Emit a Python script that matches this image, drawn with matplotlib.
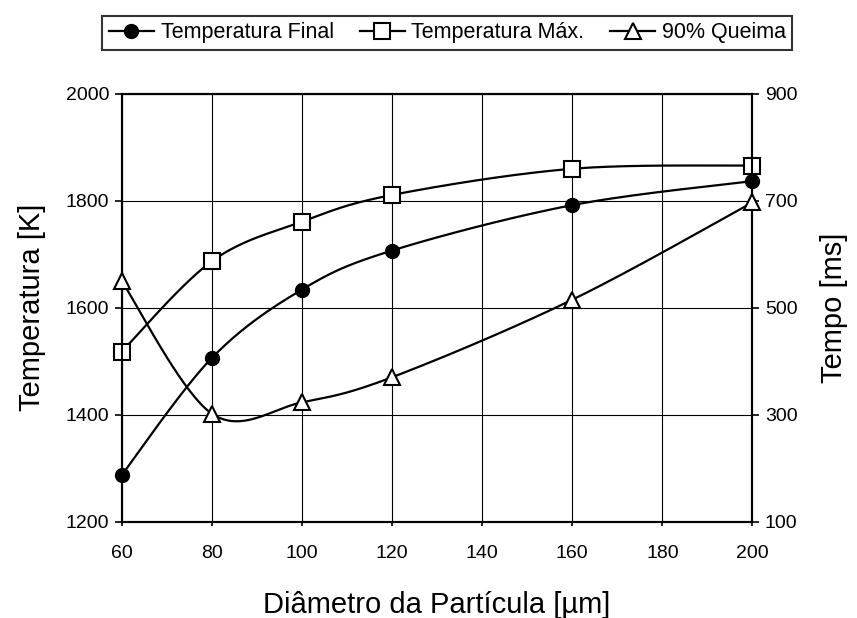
import matplotlib.pyplot as plt
import numpy as np
from matplotlib.lines import Line2D

plt.rcParams['font.family'] = ['Liberation Sans', 'DejaVu Sans']

diametro = [60, 80, 100, 120, 160, 200]
temp_final = [1287, 1506, 1634, 1707, 1792, 1837]
temp_max = [1518, 1687, 1761, 1811, 1860, 1866]
queima_90 = [550, 302, 323, 370, 515, 697]


def suaviza(xs, ys, n=40):
    # Catmull-Rom through the points, like a spreadsheet "smoothed line"
    p = np.column_stack([xs, ys]).astype(float)
    p = np.vstack([p[0], p, p[-1]])
    out = []
    t = np.linspace(0, 1, n)[:, None]
    for i in range(1, len(p) - 2):
        p0, p1, p2, p3 = p[i - 1], p[i], p[i + 1], p[i + 2]
        c1 = p1 + (p2 - p0) / 6
        c2 = p2 - (p3 - p1) / 6
        seg = ((1 - t) ** 3) * p1 + 3 * ((1 - t) ** 2) * t * c1 + 3 * (1 - t) * t ** 2 * c2 + t ** 3 * p2
        out.append(seg if i == 1 else seg[1:])
    out = np.vstack(out)
    return out[:, 0], out[:, 1]


fig = plt.figure(figsize=(8.57, 6.18), dpi=100)
ax = fig.add_axes([0.142, 0.156, 0.736, 0.692])
ax2 = ax.twinx()

ax.set_xlim(60, 200)
ax.set_ylim(1200, 2000)
ax2.set_ylim(100, 900)
ax.set_xticks(np.arange(60, 201, 20))
ax.set_yticks(np.arange(1200, 2001, 200))
ax2.set_yticks(np.arange(100, 901, 200))
ax.grid(True, color='black', linewidth=0.8)
ax.set_axisbelow(True)

lw = 1.6
x, y = suaviza(diametro, temp_final)
ax.plot(x, y, color='black', lw=lw, zorder=3)
ax.plot(diametro, temp_final, 'o', ms=10, color='black', zorder=4, clip_on=False)
x, y = suaviza(diametro, temp_max)
ax.plot(x, y, color='black', lw=lw, zorder=3)
ax.plot(diametro, temp_max, 's', ms=11, mfc='white', mec='black', mew=1.5, zorder=4, clip_on=False)
x, y = suaviza(diametro, queima_90)
ax2.plot(x, y, color='black', lw=lw, zorder=3)
ax2.plot(diametro, queima_90, '^', ms=11, mfc='white', mec='black', mew=1.5, zorder=4, clip_on=False)

for a in (ax, ax2):
    for s in a.spines.values():
        s.set_linewidth(1.5)
        s.set_color('black')
    a.tick_params(labelsize=14, length=5, width=1.2, colors='black', pad=4)
ax.tick_params(axis='x', length=3, pad=14)

ax.set_xlabel('Diâmetro da Partícula [µm]', fontsize=21, labelpad=21)
ax.set_ylabel('Temperatura [K]', fontsize=21, labelpad=14)
ax2.set_ylabel('Tempo [ms]', fontsize=21, labelpad=16)

handles = [
    Line2D([], [], color='black', lw=lw, marker='o', ms=10, mfc='black'),
    Line2D([], [], color='black', lw=lw, marker='s', ms=11, mfc='white', mew=1.5),
    Line2D([], [], color='black', lw=lw, marker='^', ms=11, mfc='white', mew=1.5),
]
leg = fig.legend(handles, ['Temperatura Final', 'Temperatura Máx.', '90% Queima'],
                 loc='upper center', bbox_to_anchor=(0.522, 0.992), ncol=3, fontsize=15.5,
                 frameon=True, fancybox=False, edgecolor='black', handlelength=2.1,
                 handletextpad=0.3, columnspacing=1.2, borderpad=0.3)
leg.get_frame().set_linewidth(1.5)

fig.savefig('out.png', dpi=100)
